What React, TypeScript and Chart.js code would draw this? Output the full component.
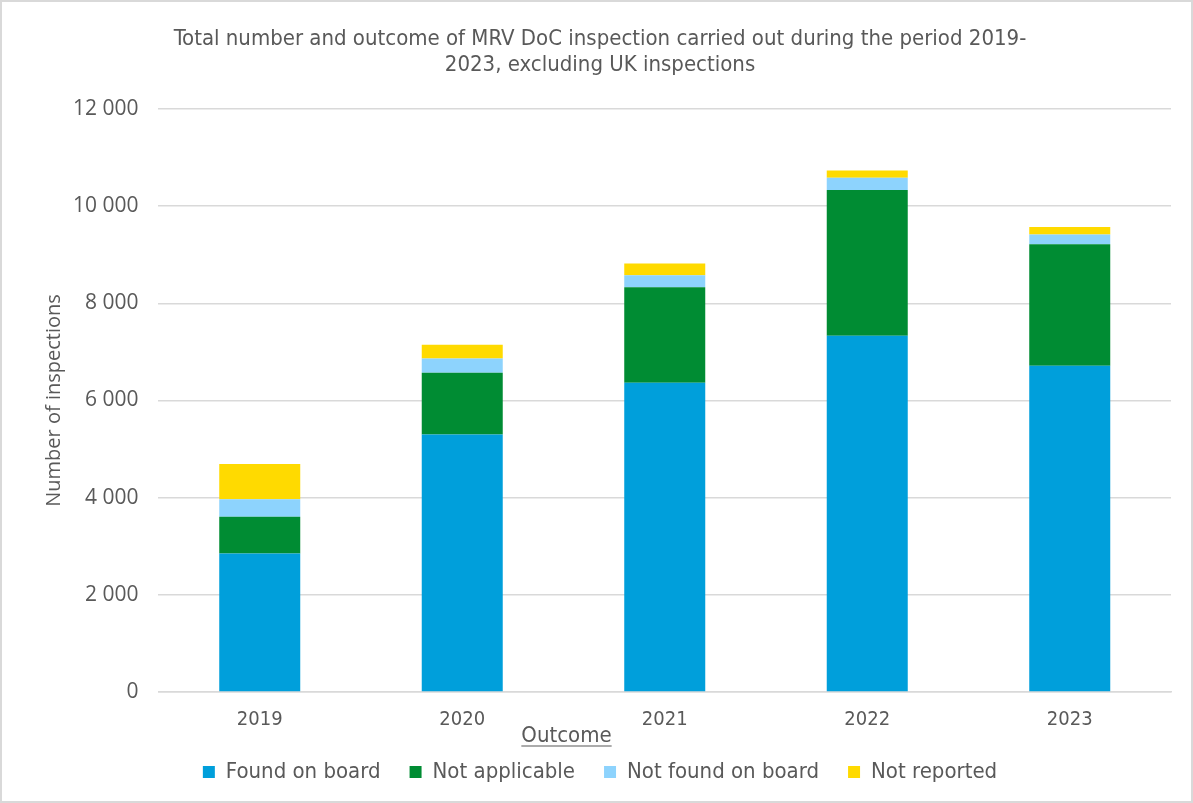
import React, { useEffect, useRef } from "react";
import { Chart, registerables } from "chart.js";

Chart.register(...registerables);

const years = ["2019", "2020", "2021", "2022", "2023"];
const foundOnBoard = [2850, 5300, 6365, 7330, 6715];
const notApplicable = [755, 1268, 1967, 3000, 2500];
const notFoundOnBoard = [364, 293, 246, 254, 200];
const notReported = [725, 288, 241, 151, 156];
const yTicks = [0, 2000, 4000, 6000, 8000, 10000, 12000];

const condensed = "'DejaVu Sans Condensed', 'Liberation Sans Narrow', sans-serif";
const gray = "#595959";

const fmt = (v: number) => String(v).replace(/\B(?=(\d{3})+(?!\d))/g, " ");

const outcomePlugin = {
  id: "outcomeTitle",
  afterDraw(chart: any) {
    const ctx = chart.ctx;
    const xScale = chart.scales.x;
    const x = (xScale.getPixelForValue(1) + xScale.getPixelForValue(2)) / 2 + 3;
    const y = chart.chartArea.bottom + 50;
    ctx.save();
    ctx.font = `22px ${condensed}`;
    ctx.fillStyle = gray;
    ctx.textAlign = "center";
    ctx.textBaseline = "alphabetic";
    ctx.fillText("Outcome", x, y);
    const w = ctx.measureText("Outcome").width;
    ctx.strokeStyle = gray;
    ctx.lineWidth = 1.2;
    ctx.beginPath();
    ctx.moveTo(x - w / 2, y + 4);
    ctx.lineTo(x + w / 2, y + 4);
    ctx.stroke();
    ctx.restore();
  },
};

export default function App() {
  const ref = useRef<HTMLCanvasElement | null>(null);
  useEffect(() => {
    document.body.style.margin = "0";
    const chart = new Chart(ref.current!, {
      type: "bar",
      data: {
        labels: years,
        datasets: [
          { label: "Found on board", data: foundOnBoard, backgroundColor: "#009FDB" },
          { label: "Not applicable", data: notApplicable, backgroundColor: "#008C33" },
          { label: "Not found on board", data: notFoundOnBoard, backgroundColor: "#8DD3FD" },
          { label: "Not reported", data: notReported, backgroundColor: "#FFDA00" },
        ],
      },
      options: {
        animation: false,
        responsive: false,
        maintainAspectRatio: false,
        layout: { padding: { left: 27, right: 20, top: 0, bottom: 8 } },
        datasets: { bar: { barPercentage: 0.4, categoryPercentage: 1, borderWidth: 0 } },
        plugins: {
          title: {
            display: true,
            text: [
              "Total number and outcome of MRV DoC inspection carried out during the period 2019-",
              "2023, excluding UK inspections",
            ],
            color: gray,
            font: { family: condensed, size: 22, weight: "normal", lineHeight: 1.18 },
            padding: { top: 24, bottom: 31 },
          },
          legend: {
            position: "bottom",
            labels: {
              color: gray,
              font: { family: condensed, size: 22 },
              boxWidth: 12,
              boxHeight: 12,
              padding: 29,
            },
          },
          tooltip: { enabled: false },
        },
        scales: {
          x: {
            stacked: true,
            grid: { display: false, drawTicks: false },
            border: { color: "#d9d9d9", width: 1.5 },
            ticks: { color: gray, font: { family: condensed, size: 20 }, padding: 15.5 },
            afterFit: (axis: any) => {
              axis.height = 40;
            },
          },
          y: {
            stacked: true,
            min: 0,
            max: 12000,
            afterBuildTicks: (axis: any) => {
              axis.ticks = yTicks.map((v) => ({ value: v }));
            },
            afterFit: (axis: any) => {
              axis.width -= 18;
            },
            grid: { color: "#d9d9d9", lineWidth: 1.5, drawTicks: false },
            border: { display: false },
            ticks: {
              color: gray,
              font: { family: "'Open Sans', sans-serif", size: 21 },
              padding: 20,
              callback: (v: any) => fmt(Number(v)),
            },
            title: {
              display: true,
              text: "Number of inspections",
              color: gray,
              font: { family: "'Open Sans', sans-serif", size: 20 },
              padding: { top: 13, bottom: 5 },
            },
          },
        },
      },
      plugins: [outcomePlugin],
    });
    return () => chart.destroy();
  }, []);
  return (
    <div
      style={{
        position: "fixed",
        left: 0,
        top: 0,
        width: 1193,
        height: 803,
        background: "#fff",
        boxSizing: "border-box",
        border: "2px solid #d9d9d9",
      }}
    >
      <canvas ref={ref} width={1189} height={799} style={{ display: "block" }} />
    </div>
  );
}
